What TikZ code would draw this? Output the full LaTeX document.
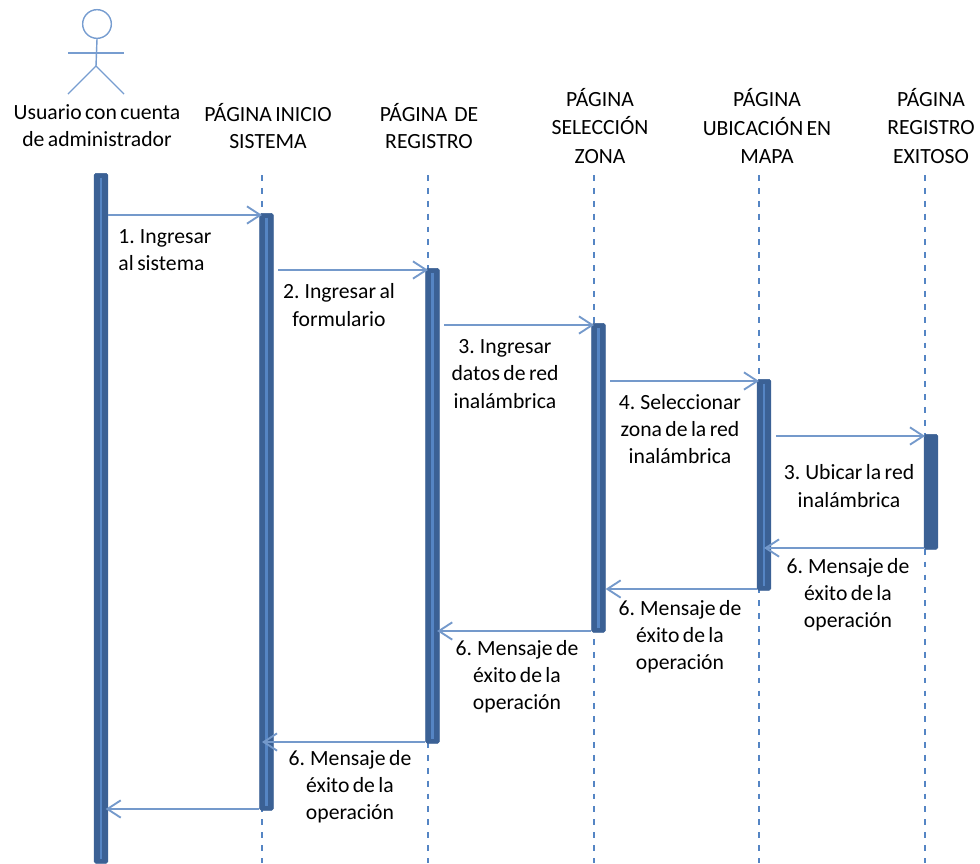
\documentclass[tikz,border=0pt]{standalone}
\usepackage{fontspec}
\setmainfont[WordSpace=0.7]{Carlito}
\usetikzlibrary{arrows.meta}

\definecolor{barDark}{HTML}{3B6195}
\definecolor{barLight}{HTML}{5585C4}
\definecolor{msgBlue}{HTML}{7499CB}

\tikzset{
  activacion/.style={draw=barDark, fill=barDark, rounded corners=1.5pt, line width=0.5pt,
    inner sep=0pt, minimum width=0.41cm, anchor=north},
  nucleo/.style={barLight, line width=2.3pt},
  mensaje/.style={msgBlue, line width=2pt, -{Straight Barb[length=0.4cm, width=0.52cm, line width=1.6pt]}},
  vida/.style={barLight, line width=0.9pt, dash pattern=on 5pt off 6pt},
  actor/.style={barLight!80, line width=1.2pt},
  etiqueta/.style={align=center, inner sep=0pt, text=black, font=\fontsize{18.5}{23.2}\selectfont},
  cabecera/.style={etiqueta, font=\fontsize{18.5}{24.6}\selectfont}
}

\begin{document}
\begin{tikzpicture}[x=0.03cm, y=-0.03cm]
  \useasboundingbox (0,0) rectangle (980,863);

  % lineas de vida
  \foreach \nombre/\px in {B/262, C/428, D/594, E/759, F/925} {
    \coordinate (vida\nombre) at (\px,175);
    \coordinate (fin\nombre) at (\px,863);
    \draw[vida] (vida\nombre) -- (fin\nombre);
  }

  % activaciones
  \node[activacion, minimum height=20.7cm] (barraA) at (101,173) {};
  \node[activacion, minimum height=17.91cm] (barraB) at (266.5,213) {};
  \node[activacion, minimum height=14.25cm] (barraC) at (432.5,268) {};
  \node[activacion, minimum height=9.27cm] (barraD) at (598.5,323) {};
  \node[activacion, minimum height=6.33cm] (barraE) at (764,379) {};
  \node[activacion, minimum height=3.45cm] (barraF) at (931,434) {};
  \foreach \barra in {A,B,C,D,E}
    \draw[nucleo] ([yshift=-4pt]barra\barra.north) -- ([yshift=4pt]barra\barra.south);

  % actor
  \node[draw=barLight!80, line width=1.2pt, circle, minimum size=0.86cm, inner sep=0pt] (cabeza) at (97,24) {};
  \coordinate (cadera) at (96,66);
  \coordinate (brazoI) at (68,53);
  \coordinate (brazoD) at (124,53);
  \coordinate (pieI) at (68,94);
  \coordinate (pieD) at (124,94);
  \draw[actor] (cabeza.south) -- (cadera);
  \draw[actor] (brazoI) -- (brazoD);
  \draw[actor] (pieI) -- (cadera) -- (pieD);

  % encabezados
  \node[etiqueta] (usuario) at (97,126) {Usuario con cuenta\\de administrador};
  \node[etiqueta] (inicio) at (268,126) {PÁGINA INICIO\\SISTEMA};
  \node[etiqueta] (registro) at (429,126) {PÁGINA~~DE\\REGISTRO};
  \node[cabecera] (seleccion) at (600,126) {PÁGINA\\SELECCIÓN\\ZONA};
  \node[cabecera] (ubicacion) at (767,126) {PÁGINA\\UBICACIÓN EN\\MAPA};
  \node[cabecera] (exitoso) at (931,126) {PÁGINA\\REGISTRO\\EXITOSO};

  % alturas de los mensajes
  \foreach \m/\py in {1/215, 2/270, 3/325, 4/381, 5/436, 6/548, 7/589, 8/631, 9/742, 10/809}
    \coordinate (m\m) at (0,\py);

  \draw[mensaje] (barraA.east |- m1) -- (vidaB |- m1);
  \draw[mensaje, shorten <=4pt] (barraB.east |- m2) -- (vidaC |- m2);
  \draw[mensaje, shorten <=4pt] (barraC.east |- m3) -- (vidaD |- m3);
  \draw[mensaje, shorten <=4pt] (barraD.east |- m4) -- (vidaE |- m4);
  \draw[mensaje, shorten <=4pt] (barraE.east |- m5) -- (vidaF |- m5);
  \draw[mensaje] (barraF.west |- m6) -- (barraE.center |- m6);
  \draw[mensaje] (barraE.west |- m7) -- (barraD.east |- m7);
  \draw[mensaje, shorten >=4pt] (barraD.west |- m8) -- (barraC.center |- m8);
  \draw[mensaje] (barraC.west |- m9) -- (vidaB |- m9);
  \draw[mensaje, shorten >=4pt] (barraB.west |- m10) -- (barraA.center |- m10);

  % textos de los mensajes
  \node[etiqueta, align=left] (txtUno) at (165,250) {1. Ingresar\\al sistema};
  \node[etiqueta] (txtDos) at (339,305) {2. Ingresar al\\formulario};
  \node[etiqueta] (txtTres) at (505,374) {3. Ingresar\\datos de red\\inalámbrica};
  \node[etiqueta] (txtCuatro) at (680,429) {4. Seleccionar\\zona de la red\\inalámbrica};
  \node[etiqueta] (txtCinco) at (849,486) {3. Ubicar la red\\inalámbrica};
  \node[etiqueta] (txtSeisF) at (848,595) {6. Mensaje de\\éxito de la\\operación};
  \node[etiqueta] (txtSeisE) at (680,637) {6. Mensaje de\\éxito de la\\operación};
  \node[etiqueta] (txtSeisD) at (517,677) {6. Mensaje de\\éxito de la\\operación};
  \node[etiqueta] (txtSeisC) at (350,787) {6. Mensaje de\\éxito de la\\operación};
\end{tikzpicture}
\end{document}
